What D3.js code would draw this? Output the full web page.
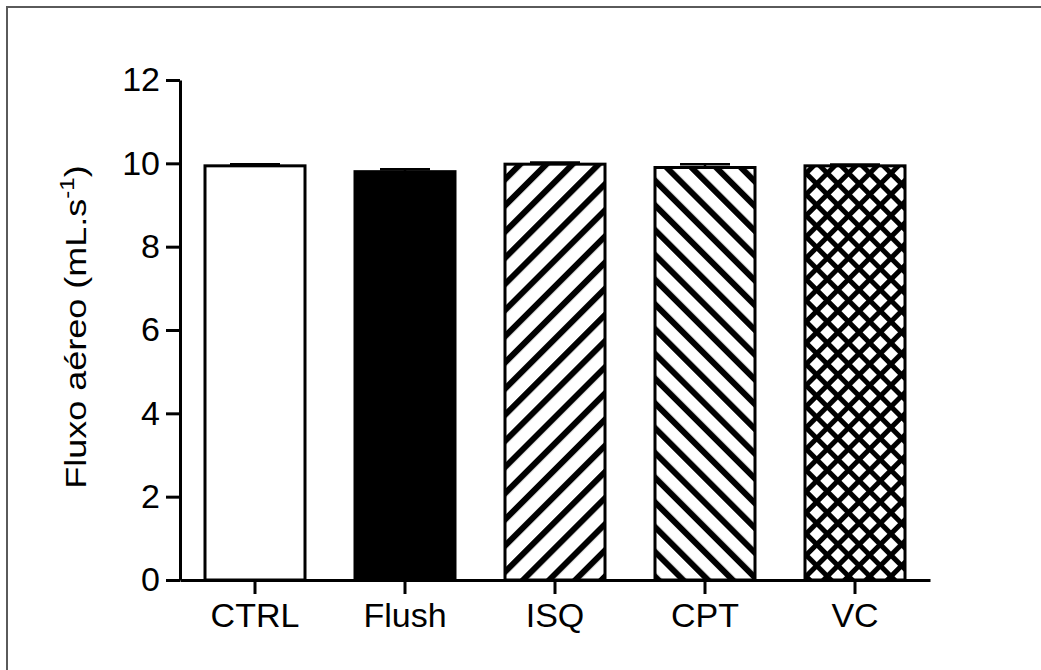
<!DOCTYPE html>
<html>
<head>
<meta charset="utf-8">
<script src="https://cdn.jsdelivr.net/npm/d3@7"></script>
<style>
  html, body { margin: 0; padding: 0; background: #fff; }
  svg { display: block; font-family: "Liberation Sans", Arial, sans-serif; }
</style>
</head>
<body>
<svg id="chart"></svg>
<script>
const categories = ['CTRL', 'Flush', 'ISQ', 'CPT', 'VC'];
const means = [9.94, 9.80, 9.98, 9.90, 9.94];
const errors = [0.04, 0.06, 0.04, 0.08, 0.03];
const fills = ['white', 'black', 'url(#hatchUp)', 'url(#hatchDown)', 'url(#cross)'];
const yTicks = [0, 2, 4, 6, 8, 10, 12];

(() => {
  const svgWidth = 1041;
  const svgHeight = 670;

  const svg = d3.select('#chart')
    .attr('width', svgWidth)
    .attr('height', svgHeight);

  // outer frame (only left/top edges show in the original)
  svg.append('rect')
    .attr('x', 7).attr('y', 7)
    .attr('width', 1200).attr('height', 900)
    .attr('fill', 'none')
    .attr('stroke', '#5a5a5a')
    .attr('stroke-width', 2);

  const defs = svg.append('defs');

  function stripes(id, angle, size, thick) {
    const p = defs.append('pattern')
      .attr('id', id)
      .attr('patternUnits', 'userSpaceOnUse')
      .attr('width', size).attr('height', size)
      .attr('patternTransform', `rotate(${angle})`);
    p.append('rect').attr('width', size).attr('height', size).attr('fill', 'white');
    p.append('rect').attr('x', 0).attr('width', thick).attr('height', size).attr('fill', 'black');
    return p;
  }
  stripes('hatchUp', 45, 18.5, 6);
  stripes('hatchDown', -45, 17.5, 6);

  const cross = defs.append('pattern')
    .attr('id', 'cross')
    .attr('patternUnits', 'userSpaceOnUse')
    .attr('width', 15).attr('height', 15)
    .attr('patternTransform', 'rotate(45)');
  cross.append('rect').attr('width', 15).attr('height', 15).attr('fill', 'white');
  cross.append('rect').attr('width', 5).attr('height', 15).attr('fill', 'black');
  cross.append('rect').attr('width', 15).attr('height', 5).attr('fill', 'black');

  const xScale = d3.scaleBand()
    .domain(categories)
    .range([180, 930])
    .paddingInner(1 / 3)
    .paddingOuter(1 / 6);

  const yScale = d3.scaleLinear()
    .domain([0, 12])
    .range([580, 80]);

  const data = categories.map((name, i) => ({ name, mean: means[i], err: errors[i], fill: fills[i] }));

  // bars
  svg.append('g').selectAll('rect')
    .data(data)
    .enter()
    .append('rect')
    .attr('x', d => xScale(d.name))
    .attr('y', d => yScale(d.mean))
    .attr('width', xScale.bandwidth())
    .attr('height', d => yScale(0) - yScale(d.mean))
    .attr('fill', d => d.fill)
    .attr('stroke', 'black')
    .attr('stroke-width', 3);

  // error bars (upper only)
  const err = svg.append('g').selectAll('g')
    .data(data)
    .enter()
    .append('g')
    .attr('stroke', 'black')
    .attr('stroke-width', 2.5);

  err.append('line')
    .attr('x1', d => xScale(d.name) + xScale.bandwidth() / 2)
    .attr('x2', d => xScale(d.name) + xScale.bandwidth() / 2)
    .attr('y1', d => yScale(d.mean))
    .attr('y2', d => yScale(d.mean + d.err));

  err.append('line')
    .attr('x1', d => xScale(d.name) + xScale.bandwidth() / 4)
    .attr('x2', d => xScale(d.name) + xScale.bandwidth() * 3 / 4)
    .attr('y1', d => yScale(d.mean + d.err))
    .attr('y2', d => yScale(d.mean + d.err));

  // axes
  const yAxis = svg.append('g')
    .attr('transform', 'translate(180,0)')
    .call(d3.axisLeft(yScale).tickValues(yTicks).tickSize(14).tickSizeOuter(0).tickPadding(6));

  const xAxis = svg.append('g')
    .attr('transform', 'translate(0,580)')
    .call(d3.axisBottom(xScale).tickSize(14).tickSizeOuter(0).tickPadding(9));

  [yAxis, xAxis].forEach(ax => {
    ax.select('.domain').attr('stroke', 'black').attr('stroke-width', 3);
    ax.selectAll('.tick line').attr('stroke', 'black').attr('stroke-width', 3);
    ax.selectAll('.tick text')
      .attr('fill', 'black')
      .style('font-family', '"Liberation Sans", Arial, sans-serif')
      .style('font-size', '34px');
  });

  // y axis title (stretched along its length like the original)
  const title = svg.append('text')
    .attr('transform', 'translate(86,327) rotate(-90) scale(1.2,1)')
    .attr('text-anchor', 'middle')
    .style('font-size', '30px')
    .attr('fill', 'black');
  title.append('tspan').text('Fluxo aéreo  (mL.s');
  title.append('tspan').attr('dy', -12).style('font-size', '20px').text('-1');
  title.append('tspan').attr('dy', 12).text(')');
})();
</script>
</body>
</html>
